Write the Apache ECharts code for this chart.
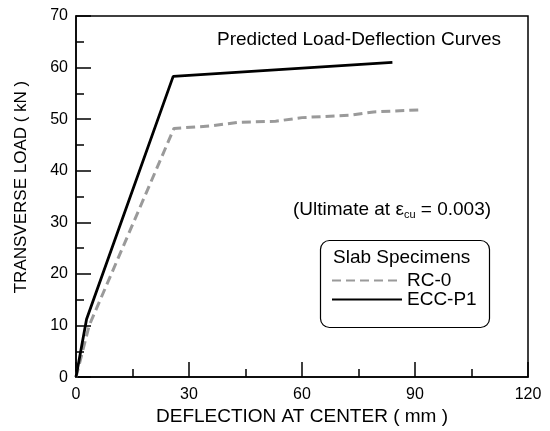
<!DOCTYPE html>
<html>
<head>
<meta charset="utf-8">
<script src="https://cdn.jsdelivr.net/npm/echarts@6/dist/echarts.min.js"></script>
<style>
html, body { margin: 0; padding: 0; background: #fff; }
#chart { width: 550px; height: 431px; }
</style>
</head>
<body>
<div id="chart"></div>
<script>
// values: [deflection mm, load kN]
var rc0 = [[0, 0], [3.5, 10], [26, 48.2], [36, 48.7], [43, 49.4], [53, 49.6], [60, 50.3], [73, 50.8], [79, 51.4], [91, 51.8]]
var eccP1 = [[0, 0], [2.8, 11.2], [25.8, 58.3], [84, 61]]
var seriesNames = ['RC-0', 'ECC-P1']
var xTicks = [0, 30, 60, 90, 120]
var yTicks = [0, 10, 20, 30, 40, 50, 60, 70]

var font = 'Liberation Sans, Arial, sans-serif'
var dom = document.getElementById('chart')
var chart = echarts.init(dom, null, { renderer: 'canvas' })

var option = {
    animation: false,
    grid: {
        left: 76, right: 22, top: 16, bottom: 50,
        show: true,
        borderColor: '#000',
        borderWidth: 1.5
    },
    xAxis: {
        type: 'value',
        min: xTicks[0], max: xTicks[xTicks.length - 1], interval: 30,
        name: 'DEFLECTION AT CENTER ( mm )',
        nameLocation: 'middle',
        nameGap: 25,
        nameTextStyle: { fontFamily: font, fontSize: 19, color: '#000' },
        axisLine: { lineStyle: { color: '#000', width: 1.5 } },
        axisTick: { inside: true, length: 15, lineStyle: { color: '#000', width: 1.5 } },
        minorTick: { show: true, splitNumber: 2, length: 8, lineStyle: { color: '#000', width: 1.5 } },
        axisLabel: { fontFamily: font, fontSize: 16, color: '#000', margin: 9 },
        splitLine: { show: false }
    },
    yAxis: {
        type: 'value',
        min: yTicks[0], max: yTicks[yTicks.length - 1], interval: 10,
        axisLine: { lineStyle: { color: '#000', width: 1.5 } },
        axisTick: { inside: true, length: 15, lineStyle: { color: '#000', width: 1.5 } },
        minorTick: { show: true, splitNumber: 2, length: 8, lineStyle: { color: '#000', width: 1.5 } },
        axisLabel: { fontFamily: font, fontSize: 16, color: '#000', margin: 8 },
        splitLine: { show: false }
    },
    legend: {
        orient: 'vertical',
        left: 326, top: 266,
        itemWidth: 70, itemHeight: 18, itemGap: 0,
        itemStyle: { opacity: 0 },
        textStyle: { fontFamily: font, fontSize: 19, color: '#000' },
        data: seriesNames
    },
    graphic: [
        {
            // y axis title, sits a little above the axis middle as in the original
            type: 'text', x: 21, y: 187, rotation: Math.PI / 2,
            style: { text: 'TRANSVERSE LOAD ( kN )', font: '17px ' + font, fill: '#000', align: 'center', verticalAlign: 'middle' }
        },
        {
            type: 'rect', left: 318, top: 238,
            shape: { width: 169, height: 87, r: 9 },
            style: { fill: 'none', stroke: '#000', lineWidth: 1.2 }
        },
        {
            type: 'text', left: 333, top: 248,
            style: { text: 'Slab Specimens', font: '19px ' + font, fill: '#000' }
        },
        {
            type: 'text', left: 217, top: 30,
            style: { text: 'Predicted Load-Deflection Curves', font: '19px ' + font, fill: '#000' }
        },
        {
            type: 'text', left: 293, top: 200,
            style: {
                text: '{a|(Ultimate at ε}{s|cu}{a| = 0.003)}',
                rich: {
                    a: { fontFamily: font, fontSize: 19, fill: '#000' },
                    s: { fontFamily: font, fontSize: 11, fill: '#000', padding: [10, 0, 0, 0] }
                }
            }
        }
    ],
    series: [
        {
            name: seriesNames[0],
            type: 'line',
            data: rc0,
            symbol: 'none',
            lineStyle: { color: '#9a9a9a', width: 3, type: [9, 5] },
            itemStyle: { color: '#9a9a9a' }
        },
        {
            name: seriesNames[1],
            type: 'line',
            data: eccP1,
            symbol: 'none',
            lineStyle: { color: '#000', width: 2.8 },
            itemStyle: { color: '#000' }
        }
    ]
}
chart.setOption(option)
</script>
</body>
</html>
